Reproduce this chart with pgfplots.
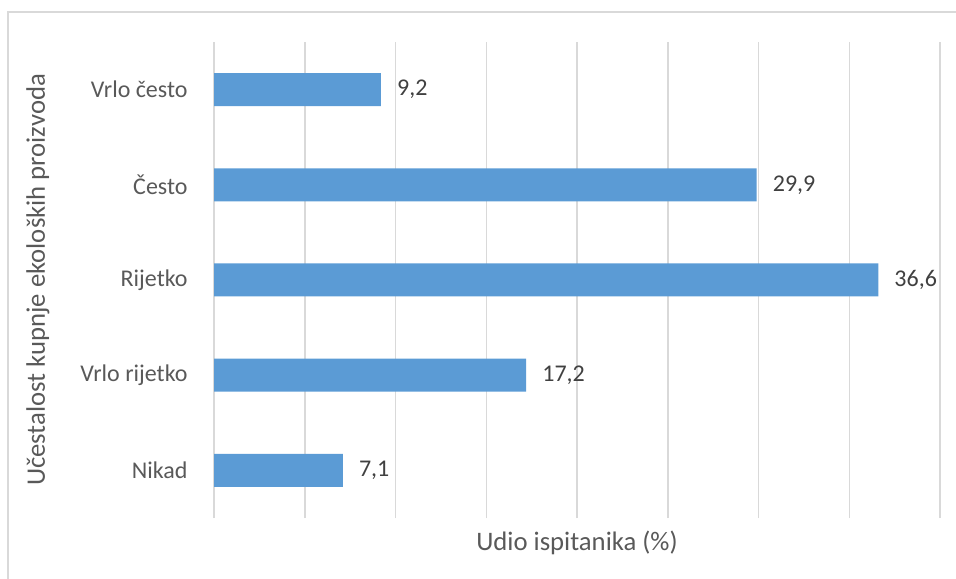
\documentclass[border=0pt]{standalone}
\usepackage{pgfplots}
\pgfplotsset{compat=1.18}
\usepackage{fontspec}
\setmainfont{Carlito}
\definecolor{barblue}{HTML}{5B9BD5}
\definecolor{gridgray}{HTML}{D9D9D9}
\definecolor{labgray}{HTML}{595959}
\definecolor{valgray}{HTML}{404040}
\begin{document}
\fontsize{24bp}{29bp}\selectfont
\begin{tikzpicture}
\useasboundingbox (0,0) rectangle (956bp,579bp);
\draw[gridgray, line width=1.5bp] (8bp,-5bp) -- (8bp,567bp) -- (965bp,567bp);
\begin{axis}[
  at={(214bp,61bp)}, anchor=south west,
  scale only axis, width=726bp, height=476bp,
  xbar, bar width=33bp,
  xmin=0, xmax=40, ymin=-0.5, ymax=4.5,
  xtick={0,5,...,40}, xticklabels={},
  xmajorgrids, major grid style={gridgray, line width=1.5bp},
  axis line style={draw=none},
  tick style={draw=none},
  ytick={0,1,2,3,4},
  yticklabels={Nikad, Vrlo rijetko, Rijetko, Često, Vrlo često},
  yticklabel style={font=\fontsize{24bp}{29bp}\selectfont, text=labgray, anchor=east, inner xsep=0pt, xshift=-22bp},
  xlabel={Udio ispitanika (\%)},
  xlabel style={font=\fontsize{26.7bp}{32bp}\selectfont, text=labgray, at={(rel axis cs:0.5,0)}, anchor=center, yshift=-25bp},
  ylabel={Učestalost kupnje ekoloških proizvoda},
  ylabel style={font=\fontsize{26.7bp}{32bp}\selectfont, text=labgray, at={(rel axis cs:0,0.5)}, anchor=center, yshift=176bp},
  nodes near coords,
  nodes near coords style={font=\fontsize{24bp}{29bp}\selectfont, text=valgray, anchor=west, inner xsep=0pt, xshift=16bp,
    /pgf/number format/.cd, use comma, fixed, fixed zerofill, precision=1, assume math mode=true},
  /pgf/number format/assume math mode=true,
]
\addplot[fill=barblue, draw=none] coordinates {(7.1,0) (17.2,1) (36.6,2) (29.9,3) (9.2,4)};
\end{axis}
\end{tikzpicture}
\end{document}
